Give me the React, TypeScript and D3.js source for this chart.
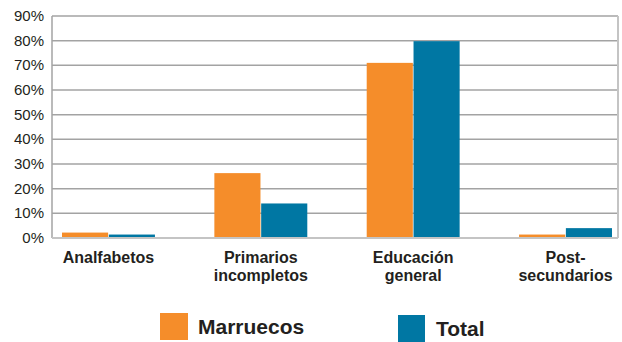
import React from "react";
import * as d3 from "d3";

const categories = [["Analfabetos"], ["Primarios", "incompletos"], ["Educación", "general"], ["Post-", "secundarios"]];
const seriesNames = ["Marruecos", "Total"];
const marruecos = [2.2, 26.3, 71, 1.4];
const total = [1.4, 14, 79.8, 4];
const yTicks = [0, 10, 20, 30, 40, 50, 60, 70, 80, 90];
const colors = ["#f58d2a", "#0077a3"];

export default function App() {
  const W = 622, H = 342;
  const left = 52, right = 618, top = 16, bottom = 238;
  const y = d3.scaleLinear().domain([0, 90]).range([bottom, top]);
  const keys = categories.map((c) => c.join(" "));
  const x0 = d3.scaleBand().domain(keys).range([32.3, 641.7]).paddingInner(0.39).paddingOuter(0.195);
  const x1 = d3.scaleBand().domain(seriesNames).range([0, x0.bandwidth()]).paddingInner(0.015);
  const data = [marruecos, total];
  const font = "'Liberation Sans', Arial, sans-serif";
  const txt = "#231f20";
  return (
    <svg width={W} height={H} style={{ position: "absolute", left: 0, top: 0 }} fontFamily={font}>
      <rect width={W} height={H} fill="#fff" />
      {yTicks.map((t) => (
        <g key={t}>
          {t > 0 && <line x1={left} x2={right} y1={y(t)} y2={y(t)} stroke="#a3a3a3" strokeWidth={1.5} />}
          <text x={44} y={y(t) + 5} textAnchor="end" fontSize={15} fill={txt}>{t}%</text>
        </g>
      ))}
      <line x1={left} x2={left} y1={top} y2={bottom} stroke="#a3a3a3" strokeWidth={1.5} />
      <line x1={right} x2={right} y1={top} y2={bottom} stroke="#c4c4c4" strokeWidth={2} />
      {keys.map((k, i) => (
        <g key={k} transform={`translate(${x0(k)},0)`}>
          {seriesNames.map((s, j) => (
            <rect key={s} x={x1(s)} width={x1.bandwidth()} y={y(data[j][i])} height={bottom - y(data[j][i])} fill={colors[j]} />
          ))}
          {categories[i].map((line, li) => (
            <text key={li} x={x0.bandwidth() / 2} y={263 + li * 18} textAnchor="middle" fontSize={16} fontWeight="bold" fill={txt}>{line}</text>
          ))}
        </g>
      ))}
      <line x1={left} x2={right} y1={bottom} y2={bottom} stroke="#c4c4c4" strokeWidth={2} />
      <rect x={160} y={313} width={28} height={27} fill={colors[0]} />
      <text x={198} y={334} fontSize={21} fontWeight="bold" fill={txt}>{seriesNames[0]}</text>
      <rect x={398} y={315} width={27} height={27} fill={colors[1]} />
      <text x={436} y={336} fontSize={21} fontWeight="bold" fill={txt}>{seriesNames[1]}</text>
    </svg>
  );
}
